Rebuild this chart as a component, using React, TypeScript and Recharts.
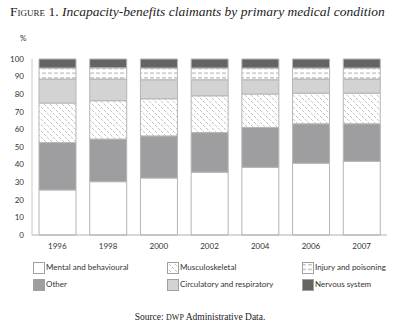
import React from 'react';
import { BarChart, Bar, XAxis, YAxis } from 'recharts';

const years = ['1996', '1998', '2000', '2002', '2004', '2006', '2007'];
const mental = [25.6, 30.3, 32.4, 35.7, 38.5, 40.8, 41.9];
const other = [26.9, 24.2, 23.9, 22.5, 22.6, 22.4, 21.3];
const musculo = [22.5, 21.8, 21.1, 20.9, 19.0, 17.4, 17.4];
const circulatory = [13.6, 12.3, 10.8, 9.1, 8.1, 8.0, 8.0];
const injury = [6.3, 6.4, 6.7, 6.7, 6.7, 6.3, 6.3];
const nervous = [5.1, 5.0, 5.1, 5.1, 5.1, 5.1, 5.1];
const yTicks = [0, 10, 20, 30, 40, 50, 60, 70, 80, 90, 100];

const data = years.map((year, i) => ({
  year,
  mental: mental[i],
  other: other[i],
  musculo: musculo[i],
  circulatory: circulatory[i],
  injury: injury[i],
  nervous: nervous[i],
}));

const series = [
  { key: 'mental', name: 'Mental and behavioural', fill: '#ffffff' },
  { key: 'other', name: 'Other', fill: '#9e9ea0' },
  { key: 'musculo', name: 'Musculoskeletal', fill: 'url(#hatchMusc)' },
  { key: 'circulatory', name: 'Circulatory and respiratory', fill: '#d3d3d3' },
  { key: 'injury', name: 'Injury and poisoning', fill: 'url(#hatchInj)' },
  { key: 'nervous', name: 'Nervous system', fill: '#646464' },
];

const legendOrder = [
  { s: 'mental', x: 33, y: 262 },
  { s: 'musculo', x: 167, y: 262 },
  { s: 'injury', x: 302, y: 262 },
  { s: 'other', x: 33, y: 279 },
  { s: 'circulatory', x: 167, y: 279 },
  { s: 'nervous', x: 302, y: 279 },
];

const sans = 'Lato, "Open Sans", sans-serif';
const serif = '"Liberation Serif", "DejaVu Serif", serif';

export default function App() {
  return (
    <div style={{ position: 'absolute', left: 0, top: 0, width: 400, height: 324, background: '#fff', overflow: 'hidden' }}>
      <svg width={0} height={0} style={{ position: 'absolute' }}>
        <defs>
          <pattern id="hatchMusc" patternUnits="userSpaceOnUse" width={6} height={6}>
            <rect x={0} y={0} width={6} height={6} fill="#ffffff" />
            <path
              d="M-1,-1 L7,7 M-1,5 L1,7 M5,-1 L7,1"
              stroke="#7a7a7a"
              strokeWidth={0.8}
              strokeDasharray="0.9 1.2"
              fill="none"
            />
          </pattern>
          <pattern id="hatchInj" patternUnits="userSpaceOnUse" width={6} height={4.7}>
            <rect x={0} y={0} width={6} height={4.7} fill="#ffffff" />
            <rect x={0} y={2} width={4} height={1.3} fill="#bdbdbd" />
          </pattern>
        </defs>
      </svg>
      <div style={{ position: 'absolute', left: 10, top: 4, fontFamily: serif, fontSize: 13.5, color: '#222', whiteSpace: 'nowrap' }}>
        <span style={{ fontVariant: 'small-caps' }}>Figure 1.</span>{' '}
        <span style={{ fontStyle: 'italic' }}>Incapacity-benefits claimants by primary medical condition</span>
      </div>
      <div style={{ position: 'absolute', left: 20, top: 33, fontFamily: sans, fontSize: 8, color: '#333' }}>%</div>
      <div style={{ position: 'absolute', left: 0, top: 0 }}>
        <BarChart width={400} height={324} data={data} margin={{ top: 59, right: 13, bottom: 69, left: 0 }} barSize={37}>
          <XAxis
            dataKey="year"
            height={20}
            tickLine={false}
            axisLine={{ stroke: '#b0b0b0' }}
            tick={{ fontFamily: sans, fontSize: 8, fill: '#333' }}
            interval={0}
          />
          <YAxis
            width={32}
            domain={[0, 100]}
            ticks={yTicks}
            tickLine={false}
            axisLine={{ stroke: '#c8c8c8' }}
            tick={{ fontFamily: sans, fontSize: 8, fill: '#333' }}
            interval={0}
          />
          {series.map((s) => (
            <Bar
              key={s.key}
              dataKey={s.key}
              name={s.name}
              stackId="a"
              fill={s.fill}
              stroke="#b5b5b5"
              strokeWidth={1}
              isAnimationActive={false}
            />
          ))}
        </BarChart>
      </div>
      {legendOrder.map((l) => {
        const s = series.find((x) => x.key === l.s)!;
        return (
          <React.Fragment key={l.s}>
            <svg width={12} height={12} style={{ position: 'absolute', left: l.x - 0.5, top: l.y - 0.5 }}>
              <rect x={0.5} y={0.5} width={11} height={11} fill={s.fill} stroke="#a0a0a0" strokeWidth={1} />
            </svg>
            <div style={{ position: 'absolute', left: l.x + 13, top: l.y, fontFamily: sans, fontSize: 8, lineHeight: '11px', color: '#333', whiteSpace: 'nowrap' }}>
              {s.name}
            </div>
          </React.Fragment>
        );
      })}
      <div style={{ position: 'absolute', left: 0, width: 400, top: 312, textAlign: 'center', fontFamily: serif, fontSize: 9.5, color: '#222' }}>
        Source: <span style={{ fontSize: 8 }}>DWP</span> Administrative Data.
      </div>
    </div>
  );
}
